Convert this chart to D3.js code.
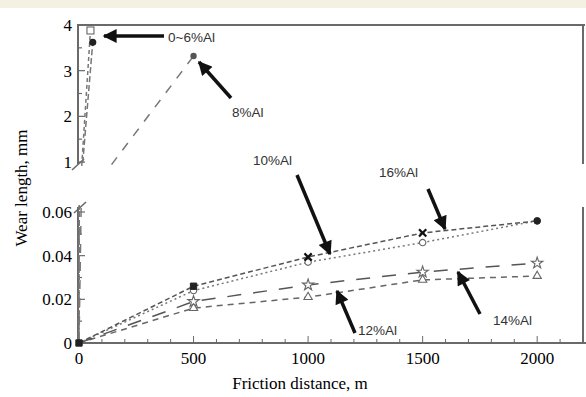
<!DOCTYPE html>
<html>
<head>
<meta charset="utf-8">
<script src="https://cdn.jsdelivr.net/npm/d3@7"></script>
<style>
  body { margin: 0; background: #fff; }
  svg { display: block; }
</style>
</head>
<body>
<div id="chart"></div>
<script>
// Wear length vs friction distance, broken y axis
const distance = [0, 500, 1000, 1500, 2000];

// lower panel series (mm)
const al10 = [0, 0.024, 0.037, 0.046, 0.056];
const al16 = [0, 0.026, 0.0394, 0.0504, 0.0559];
const al12 = [0, 0.016, 0.021, 0.0289, 0.0307];
const al14 = [0, 0.019, 0.0266, 0.0325, 0.0366];
const al16Markers = ['square', 'square', 'times', 'times', 'circle'];

// upper panel series (steep ones)
const al0to6Dist = [0, 50];
const al0to6A = [0, 3.88];
const al0to6BDist = [0, 60];
const al0to6B = [0, 3.62];
const al8Dist = [0, 500];
const al8 = [0, 3.32];

const xTicks = [0, 500, 1000, 1500, 2000];
const upperTicks = [1, 2, 3, 4];
const lowerTicks = [0, 0.02, 0.04, 0.06];

const width = 586, height = 397;
const svg = d3.select('#chart').append('svg')
  .attr('width', width).attr('height', height);

svg.append('rect').attr('x', 0).attr('y', 0).attr('width', width).attr('height', 8)
  .attr('fill', '#f4f1e3');

const x = d3.scaleLinear().domain([0, 2200]).range([79, 583]);
const yUp = d3.scaleLinear().domain([1, 4]).range([162, 25]);
const yLow = d3.scaleLinear().domain([0, 0.06]).range([343, 212]);

const axisColor = '#6a6a6a';
const defs = svg.append('defs');
defs.append('clipPath').attr('id', 'clipUp').append('rect')
  .attr('x', 79).attr('y', 20).attr('width', 506).attr('height', 146);
defs.append('clipPath').attr('id', 'clipLow').append('rect')
  .attr('x', 74).attr('y', 205).attr('width', 512).attr('height', 145);

// frame
svg.append('line').attr('x1', 77).attr('x2', 585).attr('y1', 25).attr('y2', 25)
  .attr('stroke', axisColor).attr('stroke-width', 2);
svg.append('line').attr('x1', 583).attr('x2', 583).attr('y1', 25).attr('y2', 164)
  .attr('stroke', axisColor).attr('stroke-width', 2);
svg.append('line').attr('x1', 583).attr('x2', 583).attr('y1', 207).attr('y2', 343)
  .attr('stroke', axisColor).attr('stroke-width', 2);

// upper y axis
svg.append('line').attr('x1', 78).attr('x2', 78).attr('y1', 25).attr('y2', 164)
  .attr('stroke', axisColor).attr('stroke-width', 2);
svg.append('g').selectAll('line').data(d3.range(1, 4.01, 0.5)).join('line')
  .attr('x1', 78).attr('x2', d => Number.isInteger(d) ? 85 : 82)
  .attr('y1', d => yUp(d)).attr('y2', d => yUp(d))
  .attr('stroke', axisColor).attr('stroke-width', 1.2);
svg.append('g').selectAll('text').data(upperTicks).join('text')
  .attr('x', 72).attr('y', d => yUp(d)).attr('dy', '0.35em')
  .attr('text-anchor', 'end')
  .attr('font-family', 'Liberation Serif, Times New Roman, serif').attr('font-size', 17)
  .text(d => d);

// lower y axis
svg.append('line').attr('x1', 78).attr('x2', 78).attr('y1', 207).attr('y2', 344)
  .attr('stroke', axisColor).attr('stroke-width', 2);
svg.append('g').selectAll('line').data(d3.range(0, 0.0601, 0.01)).join('line')
  .attr('x1', 78).attr('x2', (d, i) => i % 2 === 0 ? 85 : 82)
  .attr('y1', d => yLow(d)).attr('y2', d => yLow(d))
  .attr('stroke', axisColor).attr('stroke-width', 1.2);
svg.append('g').selectAll('text').data(lowerTicks).join('text')
  .attr('x', 72).attr('y', d => yLow(d)).attr('dy', '0.35em')
  .attr('text-anchor', 'end')
  .attr('font-family', 'Liberation Serif, Times New Roman, serif').attr('font-size', 17)
  .text(d => d === 0 ? '0' : d3.format('.2f')(d));

// break marks
[[72, 170, 84, 159], [74, 213, 86, 202]].forEach(b => {
  svg.append('line').attr('x1', b[0]).attr('y1', b[1]).attr('x2', b[2]).attr('y2', b[3])
    .attr('stroke', axisColor).attr('stroke-width', 1.6);
});

// x axis
svg.append('line').attr('x1', 77).attr('x2', 586).attr('y1', 343).attr('y2', 343)
  .attr('stroke', axisColor).attr('stroke-width', 2);
svg.append('g').selectAll('line').data(d3.range(0, 2201, 100)).join('line')
  .attr('x1', d => x(d)).attr('x2', d => x(d))
  .attr('y1', 343).attr('y2', d => d % 500 === 0 ? 336 : 339)
  .attr('stroke', axisColor).attr('stroke-width', 1);
svg.append('g').selectAll('text').data(xTicks).join('text')
  .attr('x', d => x(d)).attr('y', 364).attr('text-anchor', 'middle')
  .attr('font-family', 'Liberation Serif, Times New Roman, serif').attr('font-size', 17)
  .text(d => d);

svg.append('text').attr('x', 300).attr('y', 389).attr('text-anchor', 'middle')
  .attr('font-family', 'Liberation Serif, Times New Roman, serif').attr('font-size', 17)
  .text('Friction distance, m');
svg.append('text').attr('transform', 'translate(27,188) rotate(-90)')
  .attr('text-anchor', 'middle')
  .attr('font-family', 'Liberation Serif, Times New Roman, serif').attr('font-size', 17)
  .text('Wear length, mm');

// steep series drawn in both panels
function steep(xs, ys, dash) {
  const pts = xs.map((d, i) => [d, ys[i]]);
  svg.append('path').attr('clip-path', 'url(#clipUp)')
    .attr('d', d3.line().x(d => x(d[0])).y(d => yUp(d[1]))(pts))
    .attr('fill', 'none').attr('stroke', '#777').attr('stroke-width', 1.5)
    .attr('stroke-dasharray', dash);
  svg.append('path').attr('clip-path', 'url(#clipLow)')
    .attr('d', d3.line().x(d => x(d[0])).y(d => yLow(d[1]))(pts))
    .attr('fill', 'none').attr('stroke', '#777').attr('stroke-width', 1.5)
    .attr('stroke-dasharray', dash);
}
steep(al0to6Dist, al0to6A, '4,3');
steep(al0to6BDist, al0to6B, '6,3');
steep(al8Dist, al8, '9,9');

svg.append('rect').attr('x', x(al0to6Dist[1]) - 3.5).attr('y', yUp(al0to6A[1]) - 3.5)
  .attr('width', 7).attr('height', 7).attr('fill', '#fff').attr('stroke', '#666').attr('stroke-width', 1.1);
svg.append('path').attr('d', d3.symbol(d3.symbolCircle, 40)())
  .attr('transform', `translate(${x(al0to6BDist[1])},${yUp(al0to6B[1])})`).attr('fill', '#222');
svg.append('path').attr('d', d3.symbol(d3.symbolCircle, 32)())
  .attr('transform', `translate(${x(al8Dist[1])},${yUp(al8[1])})`).attr('fill', '#555');

// lower series
const lowLine = d3.line().x((d, i) => x(distance[i])).y(d => yLow(d));
function series(vals, dash, color) {
  svg.append('path').datum(vals).attr('d', lowLine)
    .attr('fill', 'none').attr('stroke', color).attr('stroke-width', 1.5)
    .attr('stroke-dasharray', dash);
}
series(al12, '6,5', '#666');
series(al14, '14,12', '#555');
series(al10, '2,3', '#777');
series(al16, '5,3', '#555');

function marker(type, cx, cy, filled) {
  const sym = { circle: d3.symbolCircle, square: d3.symbolSquare, triangle: d3.symbolTriangle,
    star: d3.symbolStar, times: d3.symbolTimes }[type];
  const size = { star: 40, triangle: 30, circle: 32, square: 40, times: 36 }[type];
  const p = svg.append('path').attr('d', d3.symbol(sym, size)())
    .attr('transform', `translate(${cx},${cy})`);
  if (type === 'times') p.attr('fill', 'none').attr('stroke', '#111').attr('stroke-width', 2.2);
  else if (filled) p.attr('fill', '#222').attr('stroke', '#222');
  else p.attr('fill', '#fff').attr('stroke', '#666').attr('stroke-width', 1.1);
}
al12.forEach((v, i) => { if (i > 0) marker('triangle', x(distance[i]), yLow(v), false); });
al14.forEach((v, i) => { if (i > 0) marker('star', x(distance[i]), yLow(v), false); });
al10.forEach((v, i) => { if (i > 0) marker('circle', x(distance[i]), yLow(v), false); });
al16.forEach((v, i) => marker(al16Markers[i], x(distance[i]), yLow(v), true));

// annotations
defs.append('marker').attr('id', 'head').attr('viewBox', '0 0 10 10')
  .attr('refX', 9).attr('refY', 5).attr('markerWidth', 4.4).attr('markerHeight', 4)
  .attr('markerUnits', 'strokeWidth').attr('orient', 'auto')
  .append('path').attr('d', 'M0,0 L10,5 L0,10 z').attr('fill', '#111');

const notes = [
  { text: '0~6%Al', tx: 168, ty: 37, x1: 164, y1: 36, x2: 104, y2: 36 },
  { text: '8%Al', tx: 232, ty: 112, x1: 231, y1: 98, x2: 199, y2: 62 },
  { text: '10%Al', tx: 253, ty: 160, x1: 297, y1: 175, x2: 330, y2: 254 },
  { text: '16%Al', tx: 379, ty: 172, x1: 428, y1: 189, x2: 445, y2: 229 },
  { text: '12%Al', tx: 358, ty: 330, x1: 355, y1: 333, x2: 337, y2: 291 },
  { text: '14%Al', tx: 493, ty: 320, x1: 480, y1: 314, x2: 458, y2: 272 }
];
notes.forEach(n => {
  svg.append('line').attr('x1', n.x1).attr('y1', n.y1).attr('x2', n.x2).attr('y2', n.y2)
    .attr('stroke', '#111').attr('stroke-width', 3.5).attr('marker-end', 'url(#head)');
  svg.append('text').attr('x', n.tx).attr('y', n.ty).attr('dy', '0.35em')
    .attr('font-family', 'Liberation Sans, Arial, sans-serif').attr('font-size', 13.5)
    .attr('fill', '#333').text(n.text);
});
</script>
</body>
</html>
